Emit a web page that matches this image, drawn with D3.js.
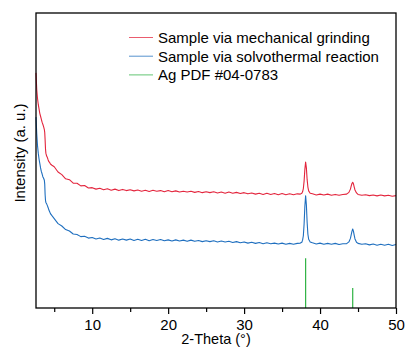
<!DOCTYPE html>
<html>
<head>
<meta charset="utf-8">
<script src="https://cdn.jsdelivr.net/npm/d3@7"></script>
<style>
    body { margin: 0; background: #fff; }
    svg { display: block; font-family: "Liberation Sans", Arial, sans-serif; }
</style>
</head>
<body>
<div id="chart"></div>
<script>
// 2-theta positions shared by both patterns
const twoTheta = [
    2.6, 2.7, 2.8, 2.9, 3.0, 3.1, 3.2, 3.3, 3.4, 3.5, 3.6, 3.7, 3.75, 3.8, 3.85, 3.9, 4.0, 4.1, 4.2, 4.3, 4.4, 4.5, 4.7,
    5.0, 5.5, 6.0, 6.5, 7.0, 7.5, 8.0, 8.5, 9.0, 9.5,
    10, 10.5, 11, 11.5, 12, 12.5, 13, 13.5, 14, 14.5,
    15, 15.5, 16, 16.5, 17, 17.5, 18, 18.5, 19, 19.5,
    20, 20.5, 21, 21.5, 22, 22.5, 23, 23.5, 24, 24.5,
    25, 25.5, 26, 26.5, 27, 27.5, 28, 28.5, 29, 29.5,
    30, 30.5, 31, 31.5, 32, 32.5, 33, 33.5, 34, 34.5,
    35, 35.5, 36, 36.5, 37, 37.4,
    37.6, 37.7, 37.8, 37.9, 38.0, 38.1, 38.2, 38.3, 38.4, 38.5, 38.7, 39.0, 39.5,
    40, 40.5, 41, 41.5, 42, 42.5, 43, 43.5, 43.8, 44.0, 44.1, 44.2, 44.3, 44.4, 44.5, 44.6, 44.8, 45.0, 45.5,
    46, 46.5, 47, 47.5, 48, 48.5, 49, 49.5, 50
];

// mechanical grinding (offset trace)
const grindingIntensity = [
    79.7, 74, 71, 69, 67.5, 66, 65, 64, 63, 62.3, 61.5, 60.5, 59.5, 57, 54, 52.5, 51.5, 51, 50.2, 49.6, 49.3, 48.8, 48.4,
    47.9, 46.1, 45.2, 43.8, 43.5, 42.3, 42.3, 41.4, 41.5, 40.7,
    40.8, 40.3, 40.6, 40.1, 40.4, 39.9, 40.3, 39.8, 40.2, 39.8,
    40.1, 39.7, 40.0, 39.6, 39.9, 39.5, 39.9, 39.6, 39.8, 39.4,
    39.8, 39.4, 39.7, 39.3, 39.6, 39.3, 39.6, 39.2, 39.5, 39.1,
    39.4, 39.1, 39.4, 39.0, 39.3, 38.9, 39.3, 38.9, 39.2, 38.8,
    39.1, 38.7, 39.0, 38.6, 38.9, 38.5, 38.9, 38.5, 38.8, 38.4,
    38.8, 38.4, 38.7, 38.4, 38.7, 38.6,
    38.9, 39.4, 40.5, 43.0, 47.0, 49.5, 47.5, 43.5, 41.0, 39.7, 38.9, 38.7, 38.3,
    38.6, 38.3, 38.6, 38.2, 38.5, 38.2, 38.5, 38.6, 39.2, 40.3, 41.3, 42.2, 42.6, 42.1, 41.0, 40.0, 39.0, 38.5, 38.2,
    38.4, 38.1, 38.3, 38.0, 38.3, 38.0, 38.2, 37.9, 38.1
];

// solvothermal reaction
const solvothermalIntensity = [
    64.7, 59, 55, 52.5, 50.5, 49, 47.5, 46.3, 45.5, 44.5, 44, 43.3, 42, 38.5, 36.5, 35.8, 35.3, 34.7, 34.0, 33.2, 32.6, 32.0, 31.3,
    30.3, 28.6, 27.8, 26.6, 26.1, 25.1, 24.9, 24.2, 24.3, 23.7,
    23.9, 23.4, 23.7, 23.2, 23.6, 23.1, 23.5, 23.0, 23.4, 23.0,
    23.4, 22.9, 23.3, 22.9, 23.3, 22.8, 23.2, 22.9, 23.2, 22.8,
    23.1, 22.7, 23.1, 22.7, 23.0, 22.6, 23.0, 22.6, 22.9, 22.5,
    22.8, 22.5, 22.8, 22.4, 22.7, 22.4, 22.6, 22.2, 22.5, 22.1,
    22.4, 22.0, 22.3, 21.9, 22.2, 21.8, 22.1, 21.8, 22.0, 21.7,
    22.0, 21.6, 21.9, 21.6, 21.9, 22.0,
    22.3, 23.0, 24.5, 28.5, 34.5, 38.0, 35.0, 29.0, 25.0, 23.3, 22.4, 22.1, 21.7,
    22.0, 21.6, 21.9, 21.6, 21.9, 21.5, 21.8, 21.8, 22.4, 23.6, 24.8, 26.0, 26.8, 26.0, 24.6, 23.4, 22.3, 21.9, 21.6,
    21.8, 21.4, 21.7, 21.3, 21.6, 21.3, 21.6, 21.2, 21.5
];

// Ag reference sticks
const pdfAngles = [38.1, 44.3];
const pdfHeights = [16.9, 6.8];

const seriesNames = ['Sample via mechanical grinding', 'Sample via solvothermal reaction', 'Ag PDF #04-0783'];
const seriesColors = ['#e3253d', '#1f6fbf', '#2fb344'];
const xTicks = [10, 20, 30, 40, 50];
const xMinorTicks = [5, 15, 25, 35, 45];

const width = 405;
const height = 347;
const margin = { top: 13, right: 9, bottom: 39, left: 36 };
const chartWidth = width - margin.left - margin.right;
const chartHeight = height - margin.top - margin.bottom;

const svg = d3.select('#chart')
    .append('svg')
    .attr('width', width)
    .attr('height', height);

const g = svg.append('g')
    .attr('transform', `translate(${margin.left},${margin.top})`);

const x = d3.scaleLinear()
    .domain([2.6, 50])
    .range([0, chartWidth]);

const y = d3.scaleLinear()
    .domain([0, 100])
    .range([chartHeight, 0]);

const line = d3.line()
    .x(d => x(d[0]))
    .y(d => y(d[1]));

// Patterns
[grindingIntensity, solvothermalIntensity].forEach((vals, i) => {
    g.append('path')
        .datum(twoTheta.map((t, j) => [t, vals[j]]))
        .attr('fill', 'none')
        .attr('stroke', seriesColors[i])
        .attr('stroke-width', 1.1)
        .attr('stroke-linejoin', 'round')
        .attr('d', line);
});

// PDF sticks
g.selectAll('.stick')
    .data(pdfAngles)
    .enter()
    .append('line')
    .attr('x1', d => x(d))
    .attr('x2', d => x(d))
    .attr('y1', y(0))
    .attr('y2', (d, i) => y(pdfHeights[i]))
    .attr('stroke', seriesColors[2])
    .attr('stroke-width', 1.2);

// Frame
g.append('rect')
    .attr('x', 0)
    .attr('y', 0)
    .attr('width', chartWidth)
    .attr('height', chartHeight)
    .attr('fill', 'none')
    .attr('stroke', '#000')
    .attr('stroke-width', 1.3);

// X axis
const xAxis = d3.axisBottom(x)
    .tickValues(xTicks)
    .tickSize(6)
    .tickFormat(d3.format('d'));

const xAxisG = g.append('g')
    .attr('transform', `translate(0,${chartHeight})`)
    .call(xAxis)
    .style('font-size', '15px')
    .style('font-family', '"Liberation Sans", Arial, sans-serif');
xAxisG.select('.domain').remove();
xAxisG.selectAll('.tick line').attr('stroke-width', 1.2);
xAxisG.selectAll('.tick text').attr('fill', '#000').attr('dy', '0.85em');

const xMinor = g.append('g')
    .attr('transform', `translate(0,${chartHeight})`)
    .call(d3.axisBottom(x).tickValues(xMinorTicks).tickSize(4).tickFormat(''));
xMinor.select('.domain').remove();
xMinor.selectAll('.tick line').attr('stroke-width', 1.2);

// Axis titles
g.append('text')
    .attr('x', chartWidth / 2)
    .attr('y', chartHeight + 36)
    .attr('text-anchor', 'middle')
    .style('font-size', '14.5px')
    .text('2-Theta (°)');

svg.append('text')
    .attr('transform', 'rotate(-90)')
    .attr('x', -153)
    .attr('y', 25)
    .attr('text-anchor', 'middle')
    .style('font-size', '15px')
    .text('Intensity (a. u.)');

// Legend
const legend = svg.append('g')
    .attr('transform', 'translate(129, 37.5)');

seriesNames.forEach((name, i) => {
    const row = legend.append('g')
        .attr('transform', `translate(0, ${i * 18.7})`);

    row.append('line')
        .attr('x1', 0)
        .attr('x2', 24)
        .attr('y1', 0)
        .attr('y2', 0)
        .attr('stroke', seriesColors[i])
        .attr('stroke-opacity', 0.75)
        .attr('stroke-width', 1);

    row.append('text')
        .attr('x', 29)
        .attr('y', 5.5)
        .style('font-size', '15px')
        .text(name);
});
</script>
</body>
</html>
